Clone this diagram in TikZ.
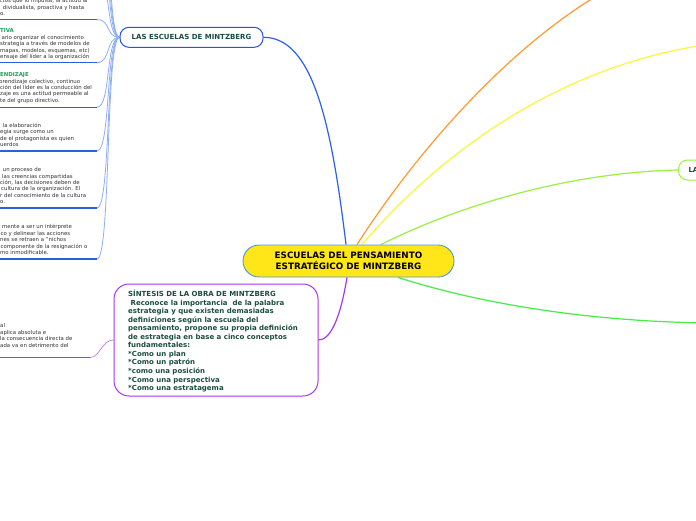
\documentclass[tikz,border=0pt]{standalone}
\usepackage{fontspec}
\setmainfont{DejaVu Sans}
\pgfdeclarelayer{bg}
\pgfsetlayers{bg,main}
\definecolor{cyel}{HTML}{FFE619}
\definecolor{cborder}{HTML}{4A9AD4}
\definecolor{cblue}{HTML}{2B60EE}
\definecolor{eblue}{HTML}{2552E6}
\definecolor{lblue}{HTML}{8DAEF7}
\definecolor{ublue}{HTML}{2B5FE0}
\definecolor{corange}{HTML}{FF9A2E}
\definecolor{cyellow}{HTML}{F8F838}
\definecolor{ygreen}{HTML}{9BF040}
\definecolor{cgreen}{HTML}{44EE44}
\definecolor{purp}{HTML}{A638F0}
\definecolor{lpurp}{HTML}{C88AF0}
\definecolor{dgreen}{HTML}{1B4D3E}
\definecolor{tgreen}{HTML}{1FA05A}
\definecolor{tgray}{HTML}{333333}
\begin{document}
\begin{tikzpicture}[x=1pt,y=-1pt,
  conn/.style={line width=1.2pt},
  sub/.style={line width=0.8pt, draw=lblue},
  ul/.style={line width=1.5pt},
  bt/.style={font=\fontsize{5.4}{6.4}\selectfont, text=tgray, anchor=base west, inner sep=0pt},
  tt/.style={font=\fontsize{5.4}{6.4}\selectfont\bfseries, text=tgreen, anchor=base west, inner sep=0pt},
  st/.style={font=\fontsize{7}{8.55}\selectfont\bfseries, text=dgreen, anchor=base west, inner sep=0pt},
]
\useasboundingbox (0,0) rectangle (696,520);
% main nodes
\node[draw=cborder, fill=cyel, line width=0.9pt, rounded corners=16pt, minimum width=211pt, minimum height=32pt, align=center, font=\fontsize{8.8}{11}\selectfont\bfseries, inner sep=0pt] (c) at (348.5,261) {ESCUELAS DEL PENSAMIENTO\\ESTRATÉGICO DE MINTZBERG};
\node[draw=eblue, fill=white, line width=1pt, rounded corners=9pt, minimum width=143pt, minimum height=20pt, font=\fontsize{7}{8}\selectfont\bfseries, text=dgreen, inner sep=0pt] (esc) at (191.5,37.3) {LAS ESCUELAS DE MINTZBERG};
\node[draw=purp, fill=white, line width=1pt, rounded corners=15pt, minimum width=204pt, minimum height=112pt] (syn) at (216,340) {};
\node[draw=ygreen, fill=white, line width=1pt, rounded corners=9pt, minimum height=20pt, anchor=west, font=\fontsize{7}{8}\selectfont\bfseries, text=dgreen, inner xsep=10pt, inner ysep=0pt, text width=40pt, align=left] (la) at (678,170) {LA};
% synthesis text
\foreach \t [count=\i] in {{SÍNTESIS DE LA OBRA DE MINTZBERG},{\ Reconoce la importancia\ \ de la palabra},{estrategia y que existen demasiadas},{definiciones según la escuela del},{pensamiento, propone su propia definición},{de estrategia en base a cinco conceptos},{fundamentales:},{*Como un plan},{*Como un patrón},{*como una posición},{*Como una perspectiva},{*Como una estratagema}}
  \node[st] (s\i) at (128,{296.5+8.55*(\i-1)}) {\t};
% left boxes text
\node[bt] (a1) at (-0.5,2.7) {ctos que lo impulsa, la actitud al};
\node[bt] (a2) at (2.7,9) {dividualista, proactiva y hasta};
\node[bt] (a3) at (0,15.7) {o.};
\node[tt] (b0) at (0,32.9) {TIVA};
\node[bt] (b1t) at (1.5,39.5) {ario organizar el conocimiento};
\node[bt] (b2t) at (0,45.9) {strategia a través de modelos de};
\node[bt] (b3t) at (0,52.3) {mapas, modelos, esquemas, etc)};
\node[bt] (b4t) at (0,58.7) {ensaje del líder a la organización};
\node[tt] (c0) at (0,76.9) {ENDIZAJE};
\node[bt] (c1) at (-1,83) {prendizaje colectivo, continuo};
\node[bt] (c2) at (0,89.4) {ción del líder es la conducción del};
\node[bt] (c3) at (0,95.8) {zaje es una actitud permeable al};
\node[bt] (c4) at (0,102.2) {te del grupo directivo.};
\node[bt] (d1) at (2.7,127.5) {la elaboración};
\node[bt] (d2) at (0,133.9) {egia surge como un};
\node[bt] (d3) at (0,140.3) {de el protagonista es quien};
\node[bt] (d4) at (0,146.7) {uerdos};
\node[bt] (e1) at (2.7,171.7) {un proceso de};
\node[bt] (e2) at (2,178.1) {las creencias compartidas};
\node[bt] (e3) at (0,184.5) {ción, las decisiones deben de};
\node[bt] (e4) at (1,190.9) {cultura de la organización. El};
\node[bt] (e5) at (0,197.3) {r del conocimiento de la cultura};
\node[bt] (e6) at (0,203.7) {o.};
\node[bt] (f1) at (2,228.8) {mente a ser un intérprete};
\node[bt] (f2) at (0.5,235.2) {co y delinear las acciones};
\node[bt] (f3) at (0,241.6) {nes se retraen a "nichos};
\node[bt] (f4) at (0.5,248) {componente de la resignación o};
\node[bt] (f5) at (0,254.4) {mo inmodificable.};
\node[bt] (g1) at (0,327.5) {al};
\node[bt] (g2) at (0,334.2) {aplica absoluta e};
\node[bt] (g3) at (0,340.9) {la consecuencia directa de};
\node[bt] (g4) at (0,347.6) {ada va en detrimento del};
% connectors
\begin{pgfonlayer}{bg}
\fill[white] (0,0) rectangle (696,520);
\coordinate (oo) at (720,-45);
\coordinate (yo) at (760,40);
\coordinate (go) at (720,323);
\coordinate (p1) at (90,357.5);
\draw[conn, draw=cblue] ([xshift=-2.5pt]c.north) .. controls (331,120) and (312,37.3) .. (esc.east);
\draw[conn, draw=corange] ([xshift=8.5pt]c.north) .. controls (450,100) and (600,-45) .. (oo);
\draw[conn, draw=cyellow] ([xshift=13.5pt]c.north) .. controls (460,130) and (600,45) .. (yo);
\draw[conn, draw=ygreen] ([xshift=32.5pt]c.north) .. controls (470,200) and (580,172) .. (la.west);
\draw[conn, draw=cgreen] ([xshift=49.5pt]c.south) .. controls (500,310) and (620,323) .. (go);
\draw[conn, draw=purp] ([xshift=-1.5pt]c.south) .. controls (340,320) and (330,340) .. (syn.east);
\draw[line width=0.8pt, draw=lpurp] (syn.west) .. controls +(-12,0) and +(10,0) .. (p1);
\draw[ul, draw=purp] (-2,357.5) -- (p1);
\foreach \yb [count=\i] in {-160,-115,-70,-25,19.5,62.7,107.3,151,208,259} {
  \coordinate (k\i) at (97,\yb);
  \draw[sub] (esc.west) .. controls +(-14,0) and +(14,0) .. (k\i);
}
\foreach \i in {5,...,10} \draw[ul, draw=ublue] (-2,0 |- k\i) -- (k\i);
\end{pgfonlayer}
\end{tikzpicture}
\end{document}
